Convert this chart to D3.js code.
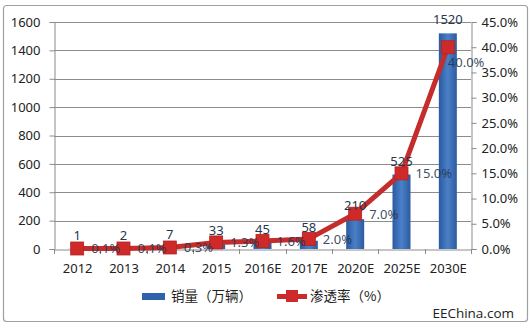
<!DOCTYPE html>
<html><head><meta charset="utf-8">
<script src="https://cdn.jsdelivr.net/npm/d3@7"></script>
<style>body{margin:0;background:#fff}svg{display:block}</style>
</head><body>
<svg id="c" width="532" height="326"></svg>
<script>
const categories = ["2012","2013","2014","2015","2016E","2017E","2020E","2025E","2030E"];
const sales = [1,2,7,33,45,58,210,525,1520];
const penetration = [0.1,0.1,0.3,1.3,1.6,2.0,7.0,15.0,40.0];
const salesTicks = [0,200,400,600,800,1000,1200,1400,1600];
const pctTicks = [0,5,10,15,20,25,30,35,40,45];
const seriesNames = ["销量（万辆）","渗透率（%）"];
const watermark = "EEChina.com";

const svg = d3.select("#c");
const L = 54, R = 471, T = 22, B = 249;
const fontNum = "'Noto Sans', 'DejaVu Sans', sans-serif";
const fontCJK = "'Noto Sans CJK SC', 'Noto Sans', sans-serif";
const labelColor = "#26374f";
const red = "#c42d2b";

const defs = svg.append("defs");
const g1 = defs.append("linearGradient").attr("id","barG").attr("x1","0").attr("x2","1").attr("y1","0").attr("y2","0");
g1.append("stop").attr("offset","0").attr("stop-color","#2a5aa0");
g1.append("stop").attr("offset","0.5").attr("stop-color","#4a80c8");
g1.append("stop").attr("offset","1").attr("stop-color","#2c5b9f");

// outer frame
svg.append("rect").attr("x",3.5).attr("y",5.5).attr("width",524).attr("height",316)
  .attr("rx",3).attr("fill","#fff").attr("stroke","#a0a0a0").attr("stroke-width",1.2);

const xc = d3.scalePoint().domain(categories).range([L,R]).padding(0.5);
const y = d3.scaleLinear().domain([0,1600]).range([B,T]);
const y2 = d3.scaleLinear().domain([0,45]).range([B,T]);

// gridlines
svg.append("g").selectAll("line").data(salesTicks.filter(d=>d>0)).join("line")
  .attr("x1",L).attr("x2",R).attr("y1",d=>Math.round(y(d))+0.5).attr("y2",d=>Math.round(y(d))+0.5)
  .attr("stroke","#8c8c8c").attr("stroke-width",1);

// left axis
const ay = svg.append("g").attr("transform",`translate(${L+0.5},0)`)
  .call(d3.axisLeft(y).tickValues(salesTicks).tickFormat(d3.format("d")).tickSize(5).tickPadding(9));
ay.select(".domain").attr("stroke","#8c8c8c");
ay.selectAll(".tick line").attr("stroke","#8c8c8c");
ay.selectAll("text").attr("font-family",fontNum).attr("font-size",13).attr("fill","#222");

// right axis
const ay2 = svg.append("g").attr("transform",`translate(${R+0.5},0)`)
  .call(d3.axisRight(y2).tickValues(pctTicks).tickFormat(d=>d3.format(".1f")(d)+"%").tickSize(5).tickPadding(5));
ay2.select(".domain").attr("stroke","#8c8c8c");
ay2.selectAll(".tick line").attr("stroke","#8c8c8c");
ay2.selectAll("text").attr("font-family",fontNum).attr("font-size",13).attr("fill","#222");

// bars
svg.append("g").selectAll("rect").data(categories).join("rect")
  .attr("x",(d)=>xc(d)-9).attr("width",18)
  .attr("y",(d,i)=>y(sales[i])).attr("height",(d,i)=>B-y(sales[i]))
  .attr("fill","url(#barG)");

// x axis
const step = (R-L)/categories.length;
const ax = svg.append("g").attr("transform",`translate(0,${B+0.5})`)
  .call(d3.axisBottom(xc).tickSize(0).tickPadding(14));
ax.select(".domain").attr("stroke","#8c8c8c");
ax.selectAll("text").attr("font-family",fontNum).attr("font-size",13).attr("fill","#222");
svg.append("g").selectAll("line").data(d3.range(categories.length+1)).join("line")
  .attr("x1",i=>Math.round(L+i*step)+0.5).attr("x2",i=>Math.round(L+i*step)+0.5)
  .attr("y1",B).attr("y2",B+5).attr("stroke","#8c8c8c");

// line
const line = d3.line().x((d,i)=>xc(categories[i])).y(d=>y2(d));
svg.append("path").datum(penetration).attr("d",line)
  .attr("fill","none").attr("stroke",red).attr("stroke-width",5).attr("stroke-linejoin","round");
svg.append("g").selectAll("rect").data(penetration).join("rect")
  .attr("x",(d,i)=>xc(categories[i])-6.5).attr("y",d=>y2(d)-6.5)
  .attr("width",13).attr("height",13).attr("fill","#cf2a2a").attr("stroke","#b52222").attr("stroke-width",0.8);

// value labels
svg.append("g").selectAll("text").data(sales).join("text")
  .attr("x",(d,i)=>xc(categories[i])).attr("y",d=>y(d)-9)
  .attr("text-anchor","middle").attr("font-family",fontNum).attr("font-size",13)
  .attr("fill",labelColor).text(d=>d);

// pct labels
svg.append("g").selectAll("text").data(penetration).join("text")
  .attr("x",(d,i)=>xc(categories[i])+ (i===categories.length-1 ? 0 : 14))
  .attr("y",(d,i)=>y2(d)+ (i===categories.length-1 ? 20 : 5))
  .attr("font-family",fontNum).attr("font-size",13)
  .attr("fill",labelColor).attr("fill-opacity",0.9).text(d=>d3.format(".1f")(d)+"%");

// legend
const lg = svg.append("g");
lg.append("rect").attr("x",142).attr("y",293).attr("width",23).attr("height",7).attr("fill","#2f62ab");
lg.append("text").attr("x",171).attr("y",301).attr("font-family",fontCJK).attr("font-size",13.5)
  .attr("fill","#222").text(seriesNames[0]);
lg.append("line").attr("x1",277).attr("x2",307).attr("y1",296.5).attr("y2",296.5)
  .attr("stroke",red).attr("stroke-width",5);
lg.append("rect").attr("x",286).attr("y",290).attr("width",12).attr("height",12).attr("fill","#cf2a2a");
lg.append("text").attr("x",310).attr("y",301).attr("font-family",fontCJK).attr("font-size",13.5)
  .attr("fill","#222").text(seriesNames[1]);

svg.append("text").attr("x",514).attr("y",318).attr("text-anchor","end")
  .attr("font-family","'Open Sans', sans-serif").attr("font-size",13.5).attr("fill","#222").text(watermark);
</script>
</body></html>
